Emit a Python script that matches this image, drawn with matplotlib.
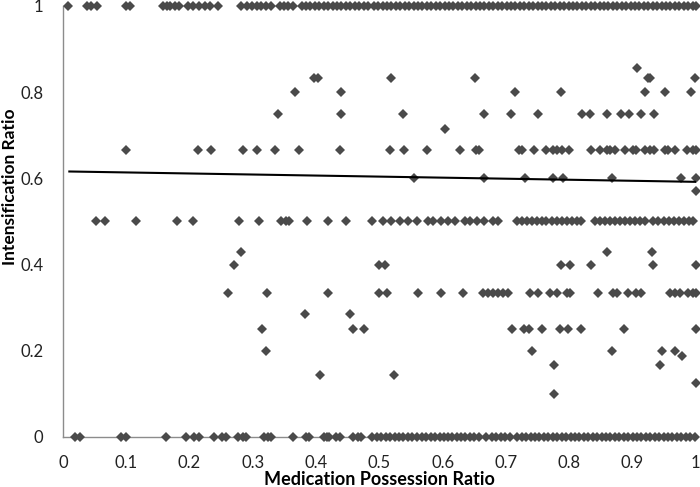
import numpy as np
import matplotlib.pyplot as plt

# medication possession ratio values, grouped by intensification ratio level
x_at_1 = [0.008, 0.038, 0.045, 0.053, 0.0995, 0.106, 0.158, 0.164, 0.169, 0.177, 0.184,
          0.198, 0.206, 0.215, 0.224, 0.233, 0.245, 0.282, 0.290, 0.298, 0.306, 0.313,
          0.321, 0.328, 0.343, 0.349, 0.356, 0.363, 0.377, 0.384, 0.391, 0.398, 0.405,
          0.412, 0.419, 0.426, 0.433, 0.440, 0.447, 0.454, 0.461, 0.468, 0.475, 0.482,
          0.491, 0.498, 0.505, 0.512, 0.519, 0.526, 0.533, 0.540, 0.547, 0.554, 0.561,
          0.568, 0.575, 0.582, 0.589, 0.596, 0.603, 0.610, 0.617, 0.624, 0.631, 0.638,
          0.645, 0.652, 0.659, 0.666, 0.673, 0.680, 0.687, 0.694, 0.701, 0.708, 0.715,
          0.722, 0.729, 0.736, 0.743, 0.750, 0.757, 0.764, 0.771, 0.778, 0.785, 0.792,
          0.799, 0.806, 0.813, 0.820, 0.827, 0.834, 0.841, 0.848, 0.855, 0.862, 0.869,
          0.876, 0.883, 0.890, 0.897, 0.904, 0.911, 0.918, 0.925, 0.932, 0.939, 0.946,
          0.953, 0.960, 0.967, 0.974, 0.981, 0.988, 0.995, 1.0]
x_at_0 = [0.019, 0.027, 0.091, 0.099, 0.163, 0.195, 0.207, 0.215, 0.239, 0.252, 0.258,
          0.276, 0.284, 0.289, 0.318, 0.324, 0.329, 0.364, 0.384, 0.389, 0.412, 0.417,
          0.421, 0.431, 0.437, 0.458, 0.466, 0.471, 0.489, 0.496, 0.503, 0.510, 0.517,
          0.524, 0.531, 0.538, 0.545, 0.552, 0.559, 0.567, 0.574, 0.581, 0.588, 0.595,
          0.602, 0.609, 0.614, 0.622, 0.629, 0.636, 0.643, 0.650, 0.657, 0.668, 0.678,
          0.685, 0.692, 0.698, 0.706, 0.717, 0.725, 0.732, 0.739, 0.746, 0.753, 0.760,
          0.767, 0.774, 0.781, 0.788, 0.795, 0.802, 0.809, 0.816, 0.823, 0.830, 0.837,
          0.844, 0.851, 0.858, 0.865, 0.872, 0.879, 0.886, 0.893, 0.900, 0.907, 0.914,
          0.921, 0.928, 0.935, 0.942, 0.949, 0.956, 0.963, 0.970, 0.977, 0.984, 0.991, 0.998]
x_at_half = [0.052, 0.067, 0.115, 0.180, 0.206, 0.278, 0.310, 0.345, 0.352, 0.357, 0.386,
             0.419, 0.447, 0.488, 0.506, 0.519, 0.532, 0.545, 0.559, 0.577, 0.585, 0.598,
             0.609, 0.619, 0.635, 0.643, 0.654, 0.665, 0.680, 0.688, 0.717, 0.725, 0.733,
             0.741, 0.749, 0.757, 0.764, 0.772, 0.780, 0.788, 0.796, 0.804, 0.812, 0.819,
             0.840, 0.848, 0.856, 0.864, 0.872, 0.880, 0.888, 0.896, 0.904, 0.912, 0.920,
             0.933, 0.941, 0.949, 0.957, 0.965, 0.973, 0.981, 0.989, 0.996]
x_at_2_3 = [0.100, 0.213, 0.234, 0.284, 0.306, 0.335, 0.373, 0.438, 0.517, 0.539, 0.575,
            0.628, 0.652, 0.658, 0.721, 0.726, 0.745, 0.764, 0.775, 0.781, 0.788, 0.799,
            0.834, 0.848, 0.860, 0.865, 0.872, 0.888, 0.900, 0.905, 0.920, 0.927, 0.934,
            0.951, 0.956, 0.967, 0.986, 0.995, 1.0]
x_at_1_3 = [0.260, 0.323, 0.419, 0.500, 0.512, 0.561, 0.597, 0.632, 0.664, 0.672, 0.680,
            0.688, 0.696, 0.704, 0.738, 0.751, 0.769, 0.780, 0.796, 0.801, 0.846, 0.869,
            0.875, 0.893, 0.906, 0.914, 0.959, 0.967, 0.975, 0.988, 0.996, 1.0]
x_at_0_75 = [0.339, 0.439, 0.538, 0.666, 0.708, 0.751, 0.820, 0.833, 0.859, 0.882, 0.895,
             0.914, 0.934]
x_at_0_8 = [0.367, 0.440, 0.714, 0.787, 0.920, 0.952, 0.992]
x_at_5_6 = [0.397, 0.403, 0.519, 0.651, 0.925, 0.928, 0.998]
x_at_0_6 = [0.555, 0.665, 0.730, 0.775, 0.790, 0.867, 0.977, 1.0]
x_at_0_4 = [0.271, 0.499, 0.509, 0.787, 0.801, 0.834, 0.932, 1.0]
x_at_3_7 = [0.281, 0.860, 0.930]
x_at_2_7 = [0.383, 0.454]
x_at_0_25 = [0.315, 0.458, 0.476, 0.710, 0.728, 0.736, 0.757, 0.786, 0.798, 0.818, 0.887, 1.0]
x_at_0_2 = [0.321, 0.741, 0.867, 0.946, 0.967]
x_at_1_6 = [0.776, 0.943]
x_at_1_7 = [0.406, 0.523]
# single points at other levels: (x, y)
x_single = [0.907, 0.603, 1.0, 0.978, 1.0, 0.776]
y_single = [6 / 7, 5 / 7, 4 / 7, 0.1875, 0.125, 0.1]

# linear trendline
trend_x = [0.01, 1.0]
trend_y = [0.616, 0.592]

groups = [(x_at_1, 1.0), (x_at_0, 0.0), (x_at_half, 0.5), (x_at_2_3, 2 / 3),
          (x_at_1_3, 1 / 3), (x_at_0_75, 0.75), (x_at_0_8, 0.8), (x_at_5_6, 5 / 6),
          (x_at_0_6, 0.6), (x_at_0_4, 0.4), (x_at_3_7, 3 / 7), (x_at_2_7, 2 / 7),
          (x_at_0_25, 0.25), (x_at_0_2, 0.2), (x_at_1_6, 1 / 6), (x_at_1_7, 1 / 7)]
xs = np.concatenate([np.array(g) for g, _ in groups] + [np.array(x_single)])
ys = np.concatenate([np.full(len(g), v) for g, v in groups] + [np.array(y_single)])

plt.rcParams['font.family'] = ['Lato', 'DejaVu Sans']

fig = plt.figure(figsize=(7, 4.87), dpi=100)
ax = fig.add_axes([0.09, 0.1027, 0.904, 0.885])

ax.plot(xs, ys, linestyle='none', marker='D', markersize=4.6, color='#4a4a4a',
        markeredgewidth=0, clip_on=False, zorder=3)
ax.plot(trend_x, trend_y, color='black', linewidth=1.5, zorder=4)

ax.set_xlim(0, 1)
ax.set_ylim(0, 1)
ax.set_xticks([0, 0.1, 0.2, 0.3, 0.4, 0.5, 0.6, 0.7, 0.8, 0.9, 1])
ax.set_xticklabels(['0', '0.1', '0.2', '0.3', '0.4', '0.5', '0.6', '0.7', '0.8', '0.9', '1'])
ax.set_yticks([0, 0.2, 0.4, 0.6, 0.8, 1])
ax.set_yticklabels(['0', '0.2', '0.4', '0.6', '0.8', '1'])
ax.tick_params(axis='both', length=0, labelsize=12, colors='#222222')
ax.tick_params(axis='x', pad=13)
ax.tick_params(axis='y', pad=14)

for side in ['top', 'right']:
    ax.spines[side].set_visible(False)
for side in ['left', 'bottom']:
    ax.spines[side].set_color('#8c8c8c')
    ax.spines[side].set_linewidth(1.0)

ax.set_xlabel('Medication Possession Ratio', fontsize=13, fontweight='bold', labelpad=0)
ax.set_ylabel('Intensification Ratio', fontsize=12.5, fontweight='bold')
ax.yaxis.set_label_coords(-0.071, 0.58)

fig.savefig('out.png', dpi=100)
